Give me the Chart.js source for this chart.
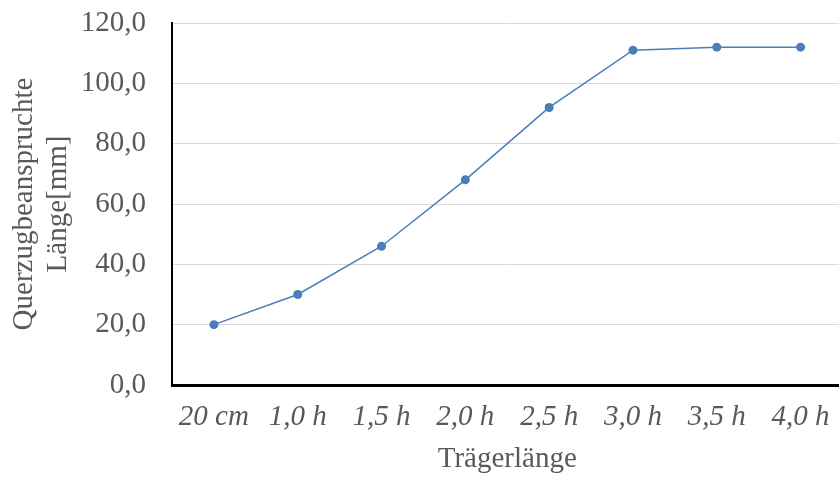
<!DOCTYPE html>
<html lang="de">
<head>
<meta charset="utf-8">
<title>Querzugbeanspruchte Länge</title>
<script src="https://cdn.jsdelivr.net/npm/chart.js@4.4.1/dist/chart.umd.min.js"></script>
<style>
  html, body { margin: 0; padding: 0; background: #fff; overflow: hidden; }
  /* la zone de tracé déborde un peu à droite, comme dans l'original */
  #wrap { width: 847px; height: 477px; }
</style>
</head>
<body>
<div id="wrap"><canvas id="chart"></canvas></div>
<script>
// Données
const categories = ['20 cm', '1,0 h', '1,5 h', '2,0 h', '2,5 h', '3,0 h', '3,5 h', '4,0 h'];
const laenge = [20, 30, 46, 68, 92, 111, 112, 112];
const yTicks = [0, 20, 40, 60, 80, 100, 120];

const serif = "'Liberation Serif', 'Times New Roman', serif";
const grey = '#595959';
const blue = '#4a7ebb';

new Chart(document.getElementById('chart'), {
  type: 'line',
  data: {
    labels: categories,
    datasets: [{
      label: 'Länge',
      data: laenge,
      borderColor: blue,
      backgroundColor: blue,
      borderWidth: 1.5,
      tension: 0,
      pointRadius: 4.5,
      pointBorderWidth: 0,
      pointBackgroundColor: blue
    }]
  },
  options: {
    responsive: true,
    maintainAspectRatio: false,
    animation: false,
    layout: { padding: 0 },
    plugins: {
      legend: { display: false },
      tooltip: { enabled: false }
    },
    scales: {
      x: {
        offset: true,
        grid: { display: false, drawTicks: false },
        border: { display: true, color: '#000', width: 3 },
        ticks: {
          color: grey,
          padding: 15,
          maxRotation: 0,
          font: { family: serif, size: 29, style: 'italic' }
        },
        title: {
          display: true,
          text: 'Trägerlänge',
          color: grey,
          padding: { top: 0, bottom: 0 },
          font: { family: serif, size: 29 }
        },
        afterFit: (s) => {
          s.height = 92;
          s.paddingLeft = 0;
          s.paddingRight = 0;
        }
      },
      y: {
        min: 0,
        max: 120,
        afterBuildTicks: (s) => { s.ticks = yTicks.map(v => ({ value: v })); },
        grid: { color: '#d9d9d9', lineWidth: 1, drawTicks: false },
        border: { display: true, color: '#000', width: 2 },
        ticks: {
          color: grey,
          padding: 26,
          font: { family: serif, size: 29 },
          callback: (v) => v.toFixed(1).replace('.', ',')
        },
        title: {
          display: true,
          text: ['Querzugbeanspruchte', 'Länge[mm]'],
          color: grey,
          padding: { top: 7, bottom: 0 },
          font: { family: serif, size: 29, lineHeight: 1.17 }
        },
        afterFit: (s) => {
          s.width = 172;
          s.paddingTop = 23;
          s.paddingBottom = 0;
        }
      }
    }
  }
});
</script>
</body>
</html>
